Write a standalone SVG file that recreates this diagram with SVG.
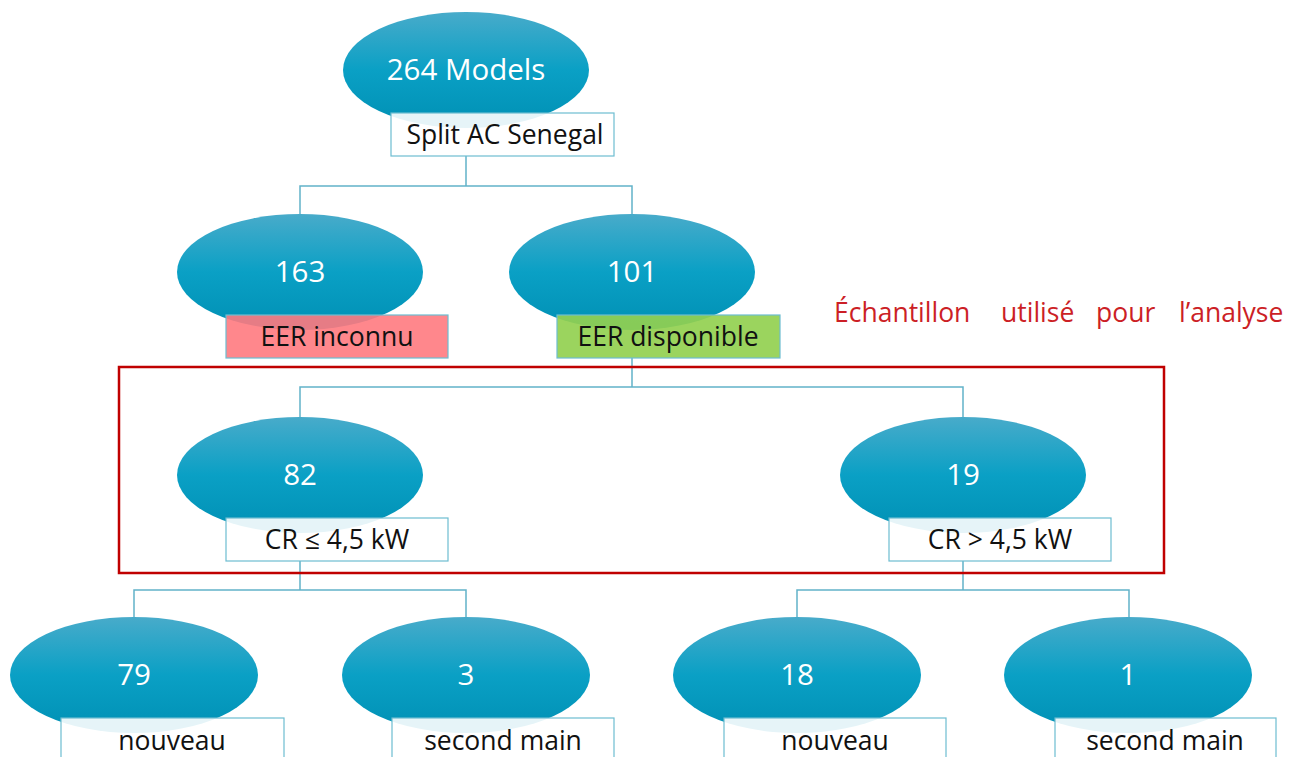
<svg xmlns="http://www.w3.org/2000/svg" width="1298" height="757" viewBox="0 0 1298 757">
<defs>
<linearGradient id="eg" x1="0" y1="0" x2="0" y2="1">
<stop offset="0" stop-color="#48abca"/>
<stop offset="0.5" stop-color="#0aa0c5"/>
<stop offset="1" stop-color="#0090b4"/>
</linearGradient>
<style>
.ell{fill:url(#eg);}
.num{font-family:"Open Sans","Noto Sans",sans-serif;font-size:29.5px;fill:#ffffff;text-anchor:middle;}
.box{fill:#ffffff;fill-opacity:0.9;stroke:#6dbdd1;stroke-width:1.2;}
.lbl{font-family:"Open Sans","Noto Sans",sans-serif;font-size:26.5px;fill:#111111;text-anchor:middle;}
.con{fill:none;stroke:#62b2c9;stroke-width:1.5;}
.red{font-family:"Open Sans","Noto Sans",sans-serif;font-size:26.5px;fill:#cc1f26;}
</style>
</defs>
<rect width="1298" height="757" fill="#ffffff"/>
<g id="connectors">
<path class="con" d="M466 156V186M300 214V186H632V214"/>
<path class="con" d="M632 358V387M300 417V387H963V417"/>
<path class="con" d="M300 561V590M134 617V590H466V617"/>
<path class="con" d="M963 561V590M797 617V590H1129V617"/>
</g>
<rect id="sample-frame" x="119" y="367" width="1045" height="206" fill="none" stroke="#c00000" stroke-width="2.5"/>
<g id="n264">
<ellipse class="ell" cx="466" cy="70" rx="123" ry="58"/>
<text class="num" x="466" y="80">264 Models</text>
<rect class="box" x="391" y="113" width="223" height="43"/>
<text class="lbl" x="505" y="144">Split AC Senegal</text>
</g>
<g id="n163">
<ellipse class="ell" cx="300" cy="272" rx="123" ry="58"/>
<text class="num" x="300" y="282">163</text>
<rect x="226" y="315" width="222" height="43" fill="#ff7a80" fill-opacity="0.9" stroke="#6dbdd1" stroke-width="1.2"/>
<text class="lbl" x="337" y="346">EER inconnu</text>
</g>
<g id="n101">
<ellipse class="ell" cx="632" cy="272" rx="123" ry="58"/>
<text class="num" x="632" y="282">101</text>
<rect x="557" y="315" width="223" height="43" fill="#92d050" fill-opacity="0.92" stroke="#6dbdd1" stroke-width="1.2"/>
<text class="lbl" x="668" y="346">EER disponible</text>
</g>
<g id="n82">
<ellipse class="ell" cx="300" cy="475" rx="123" ry="58"/>
<text class="num" x="300" y="485">82</text>
<rect class="box" x="226" y="518" width="222" height="43"/>
<text class="lbl" x="337" y="549">CR ≤ 4,5 kW</text>
</g>
<g id="n19">
<ellipse class="ell" cx="963" cy="475" rx="123" ry="58"/>
<text class="num" x="963" y="485">19</text>
<rect class="box" x="889" y="518" width="222" height="43"/>
<text class="lbl" x="1000" y="549">CR &gt; 4,5 kW</text>
</g>
<g id="n79">
<ellipse class="ell" cx="134" cy="675" rx="124" ry="58"/>
<text class="num" x="134" y="685">79</text>
<rect class="box" x="61" y="718" width="223" height="45"/>
<text class="lbl" x="172" y="750">nouveau</text>
</g>
<g id="n3">
<ellipse class="ell" cx="466" cy="675" rx="124" ry="58"/>
<text class="num" x="466" y="685">3</text>
<rect class="box" x="392" y="718" width="222" height="45"/>
<text class="lbl" x="503" y="750">second main</text>
</g>
<g id="n18">
<ellipse class="ell" cx="797" cy="675" rx="124" ry="58"/>
<text class="num" x="797" y="685">18</text>
<rect class="box" x="724" y="718" width="222" height="45"/>
<text class="lbl" x="835" y="750">nouveau</text>
</g>
<g id="n1">
<ellipse class="ell" cx="1128" cy="675" rx="124" ry="58"/>
<text class="num" x="1128" y="685">1</text>
<rect class="box" x="1055" y="718" width="221" height="45"/>
<text class="lbl" x="1165" y="750">second main</text>
</g>
<text class="red" y="322"><tspan x="834">Échantillon</tspan><tspan x="1001">utilisé</tspan><tspan x="1096">pour</tspan><tspan x="1179">l’analyse</tspan></text>
</svg>
